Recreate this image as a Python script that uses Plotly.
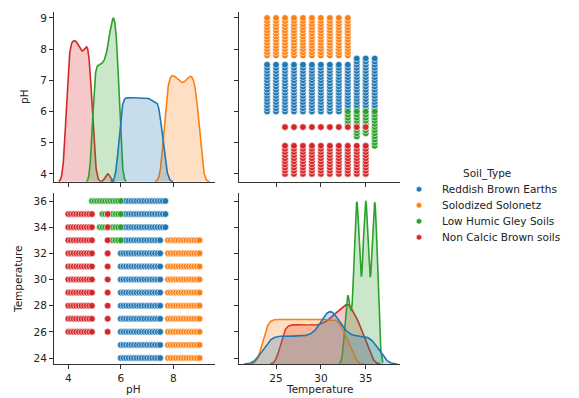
import numpy as np
import plotly.graph_objects as go

# ---------------- data ----------------
SOIL_TYPES = ["Reddish Brown Earths", "Solodized Solonetz", "Low Humic Gley Soils", "Non Calcic Brown soils"]
COLORS = ["#1f77b4", "#ff7f0e", "#2ca02c", "#d62728"]
CLASS_SIZES = [200, 200, 200, 200]

# scatter observations (distinct pH / Temperature combinations per soil type)
BLUE_TEMPS_A = [24, 25, 26, 27, 28, 29, 30, 31, 32, 33]
BLUE_PH_A = [6.0, 6.1, 6.2, 6.3, 6.4, 6.5, 6.6, 6.7, 6.8, 6.9, 7.0, 7.1, 7.2, 7.3, 7.4, 7.5]
BLUE_TEMPS_B = [34, 35, 36]
BLUE_PH_B = [6.1, 6.2, 6.3, 6.4, 6.5, 6.6, 6.7, 6.8, 6.9, 7.0, 7.1, 7.2, 7.3, 7.4, 7.5, 7.6, 7.7]
ORANGE_TEMPS = [24, 25, 26, 27, 28, 29, 30, 31, 32, 33]
ORANGE_PH = [7.8, 7.9, 8.0, 8.1, 8.2, 8.3, 8.4, 8.5, 8.6, 8.7, 8.8, 8.9, 9.0]
GREEN_PH_33 = [5.6, 5.7, 5.8, 5.9, 6.0]
GREEN_PH_34 = [5.2, 5.3, 5.4, 5.5, 5.6, 5.7, 5.8, 5.9, 6.0]
GREEN_PH_35 = [5.3, 5.4, 5.5, 5.6, 5.7, 5.8, 5.9, 6.0]
GREEN_PH_36 = [4.9, 5.0, 5.1, 5.2, 5.3, 5.4, 5.5, 5.6, 5.7, 5.8, 5.9, 6.0]
RED_TEMPS = [26, 27, 28, 29, 30, 31, 32, 33, 34, 35]
RED_PH = [4.0, 4.1, 4.2, 4.3, 4.4, 4.5, 4.6, 4.7, 4.8, 4.9]
RED_PH_EXTRA = [5.5]

# marginal frequency tables (relative counts) used for the diagonal KDEs
PH_LEVELS_BLUE = [5.9, 6.0, 6.1, 6.2, 6.3, 6.4, 6.5, 6.6, 6.7, 6.8, 6.9, 7.0, 7.1, 7.2, 7.3, 7.4, 7.5, 7.6, 7.7]
PH_COUNTS_BLUE = [0.2, 1, 1, 1, 1, 1, 1, 1, 1, 1, 1, 1, 1, 0.95, 0.93, 1.0, 0.9, 0.45, 0.2]
PH_LEVELS_ORANGE = [7.6, 7.7, 7.8, 7.9, 8.0, 8.1, 8.2, 8.3, 8.4, 8.5, 8.6, 8.7, 8.8, 8.9, 9.0, 9.1]
PH_COUNTS_ORANGE = [0.25, 0.75, 1.0, 1.03, 1.03, 1.0, 0.97, 0.94, 0.94, 0.97, 1.02, 1.03, 1.0, 0.85, 0.5, 0.1]
PH_LEVELS_GREEN = [4.9, 5.0, 5.1, 5.2, 5.3, 5.4, 5.5, 5.6, 5.7, 5.8, 5.9, 6.0]
PH_COUNTS_GREEN = [0.3, 0.85, 0.88, 0.88, 0.89, 0.92, 1.0, 1.15, 1.27, 1.22, 0.9, 0.25]
PH_LEVELS_RED = [3.9, 4.0, 4.1, 4.2, 4.3, 4.4, 4.5, 4.6, 4.7, 4.8, 4.9, 5.0, 5.5]
PH_COUNTS_RED = [0.35, 1.0, 1.02, 1.03, 1.04, 0.99, 0.93, 0.94, 1.03, 1.01, 0.6, 0.1, 0.13]

TEMP_LEVELS_BLUE = [24, 25, 26, 27, 28, 29, 30, 31, 32, 33, 34, 35, 36]
TEMP_COUNTS_BLUE = [1, 1, 1, 1, 1, 1, 1.3, 2.5, 1.4, 1, 1, 1, 1]
TEMP_LEVELS_ORANGE = [24, 25, 26, 27, 28, 29, 30, 31, 32, 33]
TEMP_COUNTS_ORANGE = [1, 1, 1, 1, 1, 1, 1, 1, 1, 0.55]
TEMP_LEVELS_GREEN = [33, 34, 35, 36]
TEMP_COUNTS_GREEN = [0.42, 1, 1, 1]
TEMP_LEVELS_RED = [26, 27, 28, 29, 30, 31, 32, 33, 34, 35]
TEMP_COUNTS_RED = [1, 1, 1, 1, 1, 1.15, 1.35, 1.6, 1.2, 0.55]

PH_BW = [0.1, 0.1, 0.07, 0.09]
TEMP_BW = [0.85, 0.6, 0.31, 0.55]

PH_TICKS = [4, 5, 6, 7, 8, 9]
T_TICKS = [24, 26, 28, 30, 32, 34, 36]

# ---------------- helpers ----------------
def grid_points(temps, phs):
    t = [a for a in temps for _ in phs]
    p = [b for _ in temps for b in phs]
    return t, p

def kde(levels, counts, bw, share):
    lv = np.asarray(levels, float)
    w = np.asarray(counts, float)
    w = w / w.sum()
    xs = np.linspace(lv.min() - 3 * bw, lv.max() + 3 * bw, 400)
    d = np.zeros_like(xs)
    for l, wi in zip(lv, w):
        d += wi * np.exp(-0.5 * ((xs - l) / bw) ** 2) / (bw * np.sqrt(2 * np.pi))
    return xs, d * share

def rgba(hexc, a):
    h = hexc.lstrip("#")
    return "rgba(%d,%d,%d,%s)" % (int(h[0:2], 16), int(h[2:4], 16), int(h[4:6], 16), a)

bt1, bp1 = grid_points(BLUE_TEMPS_A, BLUE_PH_A)
bt2, bp2 = grid_points(BLUE_TEMPS_B, BLUE_PH_B)
ot, op = grid_points(ORANGE_TEMPS, ORANGE_PH)
g33t, g33p = grid_points([33], GREEN_PH_33)
g34t, g34p = grid_points([34], GREEN_PH_34)
g35t, g35p = grid_points([35], GREEN_PH_35)
g36t, g36p = grid_points([36], GREEN_PH_36)
rt1, rp1 = grid_points(RED_TEMPS, RED_PH)
rt2, rp2 = grid_points(RED_TEMPS, RED_PH_EXTRA)

SCAT_T = [bt1 + bt2, ot, g33t + g34t + g35t + g36t, rt1 + rt2]
SCAT_P = [bp1 + bp2, op, g33p + g34p + g35p + g36p, rp1 + rp2]

PH_LEVELS = [PH_LEVELS_BLUE, PH_LEVELS_ORANGE, PH_LEVELS_GREEN, PH_LEVELS_RED]
PH_COUNTS = [PH_COUNTS_BLUE, PH_COUNTS_ORANGE, PH_COUNTS_GREEN, PH_COUNTS_RED]
T_LEVELS = [TEMP_LEVELS_BLUE, TEMP_LEVELS_ORANGE, TEMP_LEVELS_GREEN, TEMP_LEVELS_RED]
T_COUNTS = [TEMP_COUNTS_BLUE, TEMP_COUNTS_ORANGE, TEMP_COUNTS_GREEN, TEMP_COUNTS_RED]

total = float(sum(CLASS_SIZES))
fig = go.Figure()

# ---------------- diagonal KDEs (drawn in reverse hue order) ----------------
ph_curves, t_curves = [], []
for i in [3, 2, 1, 0]:
    share = CLASS_SIZES[i] / total
    ph_curves.append((i,) + kde(PH_LEVELS[i], PH_COUNTS[i], PH_BW[i], share))
    t_curves.append((i,) + kde(T_LEVELS[i], T_COUNTS[i], TEMP_BW[i], share))
ph_max = max(c[2].max() for c in ph_curves)
t_max = max(c[2].max() for c in t_curves)

for (i, xs, d) in ph_curves:
    fig.add_trace(go.Scatter(x=xs, y=d, xaxis="x", yaxis="y", mode="lines",
                             line=dict(color=COLORS[i], width=1.6), fill="tozeroy",
                             fillcolor=rgba(COLORS[i], 0.25), showlegend=False, hoverinfo="skip"))
for (i, xs, d) in t_curves:
    fig.add_trace(go.Scatter(x=xs, y=d, xaxis="x4", yaxis="y4", mode="lines",
                             line=dict(color=COLORS[i], width=1.6), fill="tozeroy",
                             fillcolor=rgba(COLORS[i], 0.25), showlegend=False, hoverinfo="skip"))

# ---------------- scatter panels ----------------
for i in range(4):
    mk = dict(color=COLORS[i], size=6.6, line=dict(color="white", width=0.6))
    fig.add_trace(go.Scatter(x=SCAT_T[i], y=SCAT_P[i], xaxis="x2", yaxis="y2", mode="markers",
                             marker=mk, showlegend=False, name=SOIL_TYPES[i]))
    fig.add_trace(go.Scatter(x=SCAT_P[i], y=SCAT_T[i], xaxis="x3", yaxis="y3", mode="markers",
                             marker=mk, showlegend=False, name=SOIL_TYPES[i]))

# ---------------- layout ----------------
W, H = 579, 398
FONT = dict(family="DejaVu Sans", size=10.5, color="#222")

def dom_x(a, b):
    return [a / W, b / W]

def dom_y(top, bottom):
    return [1 - bottom / H, 1 - top / H]

LEFT = dom_x(54, 215)
RIGHT = dom_x(239, 400)
TOP = dom_y(11.7, 181.7)
BOTTOM = dom_y(193.3, 364.3)
PH_RANGE = [3.455, 9.59]
T_RANGE = [20.87, 38.82]
PH_YRANGE = [3.75, 9.2]
T_YRANGE = [23.52, 36.59]

# diagonal panels: density axis carrying the shared row ticks (twin-axis behaviour)
ph_dens_top = ph_max * 1.04
t_dens_top = t_max * 1.05
ph_tick_pos = [(v - PH_YRANGE[0]) / (PH_YRANGE[1] - PH_YRANGE[0]) * ph_dens_top for v in PH_TICKS]
t_tick_pos = [(v - T_YRANGE[0]) / (T_YRANGE[1] - T_YRANGE[0]) * t_dens_top for v in T_TICKS]

base = dict(showline=True, linecolor="#333", linewidth=1, ticks="outside", ticklen=4,
            tickwidth=1, tickcolor="#333", showgrid=False, zeroline=False, tickfont=FONT)

layout = dict(
    width=W, height=H, margin=dict(l=0, r=0, t=0, b=0), autosize=False,
    paper_bgcolor="white", plot_bgcolor="white", font=FONT, showlegend=False,
    xaxis=dict(base, domain=LEFT, range=PH_RANGE, anchor="y", tickvals=[4, 6, 8], showticklabels=False),
    yaxis=dict(base, domain=TOP, range=[0, ph_dens_top], anchor="x", tickvals=ph_tick_pos,
               ticktext=[str(v) for v in PH_TICKS]),
    xaxis2=dict(base, domain=RIGHT, range=T_RANGE, anchor="y2", tickvals=[25, 30, 35], showticklabels=False),
    yaxis2=dict(base, domain=TOP, range=PH_YRANGE, anchor="x2", tickvals=PH_TICKS, showticklabels=False),
    xaxis3=dict(base, domain=LEFT, range=PH_RANGE, anchor="y3", tickvals=[4, 6, 8]),
    yaxis3=dict(base, domain=BOTTOM, range=T_YRANGE, anchor="x3", tickvals=T_TICKS),
    xaxis4=dict(base, domain=RIGHT, range=T_RANGE, anchor="y4", tickvals=[25, 30, 35]),
    yaxis4=dict(base, domain=BOTTOM, range=[0, t_dens_top], anchor="x4", tickvals=t_tick_pos,
                showticklabels=False),
)
fig.update_layout(**layout)

# axis titles
ann = [
    dict(text="pH", x=24 / W, y=1 - 97 / H, textangle=-90),
    dict(text="Temperature", x=18 / W, y=1 - 279 / H, textangle=-90),
    dict(text="pH", x=133 / W, y=1 - 389 / H),
    dict(text="Temperature", x=320 / W, y=1 - 389 / H),
    dict(text="Soil_Type", x=487 / W, y=1 - 173 / H),
]
for a in ann:
    fig.add_annotation(xref="paper", yref="paper", showarrow=False, font=FONT,
                       xanchor="center", yanchor="middle", **a)

# legend (manual)
for i, name in enumerate(SOIL_TYPES):
    yc = 189.3 + 16 * i
    fig.add_annotation(xref="paper", yref="paper", showarrow=False, font=FONT,
                       x=440 / W, y=1 - yc / H, xanchor="left", yanchor="middle", text=name)
    r = 2.7
    fig.add_shape(type="circle", xref="paper", yref="paper",
                  x0=(419 - r) / W, x1=(419 + r) / W, y0=1 - (yc + r) / H, y1=1 - (yc - r) / H,
                  fillcolor=COLORS[i], line=dict(color="white", width=0.5))

fig.write_html("out.html")
